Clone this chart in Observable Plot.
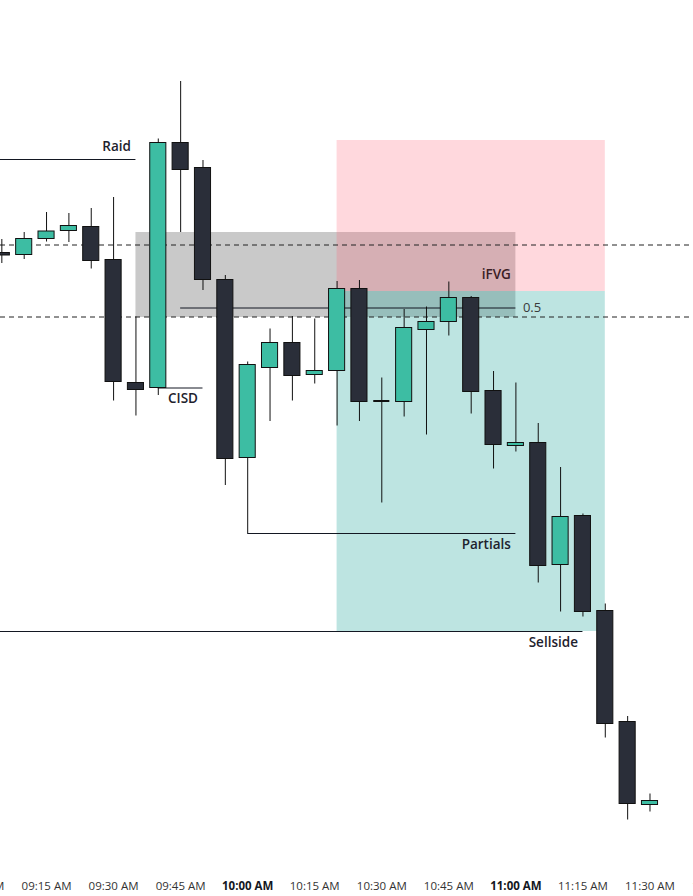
<!DOCTYPE html>
<html>
<head>
<meta charset="utf-8">
<script src="https://cdn.jsdelivr.net/npm/d3@7"></script>
<script src="https://cdn.jsdelivr.net/npm/@observablehq/plot@0.6"></script>
<style>
  html, body { margin: 0; padding: 0; background: #fff; overflow: hidden; }
</style>
</head>
<body>
<div id="chart"></div>
<script>
// 5-minute candles
const times = ["09:05","09:10","09:15","09:20","09:25","09:30","09:35","09:40","09:45","09:50",
               "09:55","10:00","10:05","10:10","10:15","10:20","10:25","10:30","10:35","10:40",
               "10:45","10:50","10:55","11:00","11:05","11:10","11:15","11:20","11:25","11:30"];
const open  = [20323.75,20322.75,20330.75,20334.75,20336.75,20320.25,20258.75,20256.25,20378.75,20366.25,
               20310.25,20221.25,20266.25,20278.75,20262.75,20264.75,20305.75,20249.75,20249.25,20285.25,
               20289.25,20301.25,20254.75,20227.25,20228.75,20167.75,20192.25,20144.75,20089.25,20047.75];
const high  = [20330.5,20334,20344,20343.5,20346,20351.5,20291.75,20380.75,20409.5,20370,
               20312.5,20269.25,20285.75,20292,20290.75,20309.5,20310,20261.25,20295.5,20296.75,
               20309.25,20302,20264.5,20258.75,20238.5,20216.5,20193.25,20148.25,20092,20053.25];
const low   = [20318.5,20320.5,20329.25,20329,20315.75,20249.75,20242.25,20252.5,20334,20305,
               20207.5,20183.5,20239.5,20249.75,20258.25,20237.25,20239.5,20198.75,20241.75,20232.75,
               20282.25,20243.25,20215.75,20224.25,20158.75,20144.25,20141.75,20081.25,20040.25,20044.25];
const close = [20322.5,20330.75,20334.5,20337.25,20319.75,20259.25,20255.25,20378.75,20365.25,20310.25,
               20220.75,20267.75,20278.75,20262.25,20264.75,20305.75,20249.25,20249.75,20286.25,20289.25,
               20301.25,20254.25,20227.75,20228.75,20167.25,20191.75,20144.25,20088.25,20048.25,20049.75];

// time axis labels
const tickTimes  = ["09:00","09:15","09:30","09:45","10:00","10:15","10:30","10:45","11:00","11:15","11:30","11:45"];
const tickLabels = ["09:00 AM","09:15 AM","09:30 AM","09:45 AM","10:00 AM","10:15 AM","10:30 AM","10:45 AM","11:00 AM","11:15 AM","11:30 AM","11:45 AM"];
const tickBold   = [false,false,false,false,true,false,false,false,true,false,false,false];

// zones: gray gap, red risk and green target of the trade
const zoneNames = ["gap", "risk", "target"];
const zoneStart = ["09:35", "10:20", "10:20"];
const zoneEnd   = ["11:00", "11:20", "11:20"];
const zoneTop   = [20334, 20380, 20304.5];
const zoneBot   = [20291.5, 20304.5, 20134.5];

// dashed reference levels across the whole chart
const dashedLevels = [20327.75, 20291.75];

// marked levels with their labels
const levelNames  = ["Raid", "CISD", "0.5", "Partials", "Sellside"];
const levelPrice  = [20370.5, 20256.25, 20296.25, 20183.5, 20134.5];
const levelStart  = ["09:00", "09:40", "09:45", "10:00", "09:00"];
const levelEnd    = ["09:35", "09:50", "11:00", "11:00", "11:15"];
const levelLabelSide = ["above", "below", "right", "below", "below"];

// label inside the gap
const zoneLabel = "iFVG";
const zoneLabelEnd = "11:00";
const zoneLabelPrice = 20313;

const T = s => {
  const [h, m, sec] = s.split(":").map(Number);
  return new Date(Date.UTC(2024, 0, 2, h, m, sec || 0));
};

const candles = times.map((t, i) => ({
  time: T(t), open: open[i], high: high[i], low: low[i], close: close[i]
}));
const zones = zoneNames.map((n, i) => ({
  name: n, x1: T(zoneStart[i]), x2: T(zoneEnd[i]), y1: zoneTop[i], y2: zoneBot[i]
}));
const levels = levelNames.map((n, i) => ({
  name: n, y: levelPrice[i], x1: T(levelStart[i]), x2: T(levelEnd[i]), side: levelLabelSide[i]
}));
const ticks = tickTimes.map((t, i) => ({time: T(t), label: tickLabels[i], bold: tickBold[i]}));

const HALF = 108e3; // half a candle body, in ms
const up = d => d.close > d.open;
const bodies = candles.filter(d => d.open !== d.close);
const dojis = candles.filter(d => d.open === d.close);

const ink = "#131722";
const annot = {fontSize: 13.5, fontWeight: 600, fill: "#1e222d", lineAnchor: "middle"};

const chart = Plot.plot({
  width: 693,
  height: 896,
  marginTop: 0, marginRight: 0, marginBottom: 0, marginLeft: 0,
  style: {fontFamily: "'Open Sans', 'Noto Sans', sans-serif", background: "#fff"},
  x: {type: "utc", domain: [T("09:04:42"), T("11:39:44")], range: [0, 693], axis: null},
  y: {domain: [20450, 20002], range: [0, 896], axis: null},
  marks: [
    // gap zone (solid) under the translucent risk / target zones
    Plot.rect(zones.filter(d => d.name === "gap"), {x1: "x1", x2: "x2", y1: "y1", y2: "y2", fill: "#c9c9c9"}),
    Plot.rect(zones.filter(d => d.name === "risk"), {x1: "x1", x2: "x2", y1: "y1", y2: "y2", fill: "#ff6478", fillOpacity: 0.25}),
    Plot.rect(zones.filter(d => d.name === "target"), {x1: "x1", x2: "x2", y1: "y1", y2: "y2", fill: "#26a69a", fillOpacity: 0.3}),
    Plot.text([zoneLabel], {x: () => T(zoneLabelEnd), y: () => zoneLabelPrice, text: d => d, textAnchor: "end", dx: -5,
      ...annot, fill: "#3b2026"}),

    Plot.ruleY(dashedLevels, {stroke: "#222", strokeDasharray: "5,4", strokeWidth: 1}),

    Plot.ruleY(levels, {y: "y", x1: "x1", x2: "x2", stroke: ink, strokeWidth: 1, clip: true}),
    Plot.text(levels.filter(d => d.side === "above"), {x: "x2", y: "y", text: "name", textAnchor: "end", dx: -5, dy: -13, ...annot}),
    Plot.text(levels.filter(d => d.side === "below"), {x: "x2", y: "y", text: "name", textAnchor: "end", dx: -5, dy: 11, ...annot}),
    Plot.text(levels.filter(d => d.side === "right"), {x: "x2", y: "y", text: "name", textAnchor: "start", dx: 7,
      fontSize: 13, fill: "#3a3a3a", lineAnchor: "middle"}),

    // candles
    Plot.ruleX(candles, {x: "time", y1: "low", y2: "high", stroke: "#111", strokeWidth: 1}),
    Plot.rect(bodies, {
      x1: d => new Date(+d.time - HALF), x2: d => new Date(+d.time + HALF),
      y1: "open", y2: "close",
      fill: d => up(d) ? "#3dbda3" : "#2a2e39", stroke: "#111", strokeWidth: 1
    }),
    Plot.ruleY(dojis, {y: "open", x1: d => new Date(+d.time - HALF), x2: d => new Date(+d.time + HALF), stroke: "#111", strokeWidth: 2}),

    // time axis
    Plot.text(ticks.filter(d => !d.bold), {x: "time", text: "label", frameAnchor: "bottom", dy: -10, lineAnchor: "middle",
      fontSize: 11.5, fill: "#333", clip: true}),
    Plot.text(ticks.filter(d => d.bold), {x: "time", text: "label", frameAnchor: "bottom", dy: -10, lineAnchor: "middle",
      fontSize: 11.5, fontWeight: 700, fill: "#131722", clip: true})
  ]
});

document.getElementById("chart").appendChild(chart);
</script>
</body>
</html>
